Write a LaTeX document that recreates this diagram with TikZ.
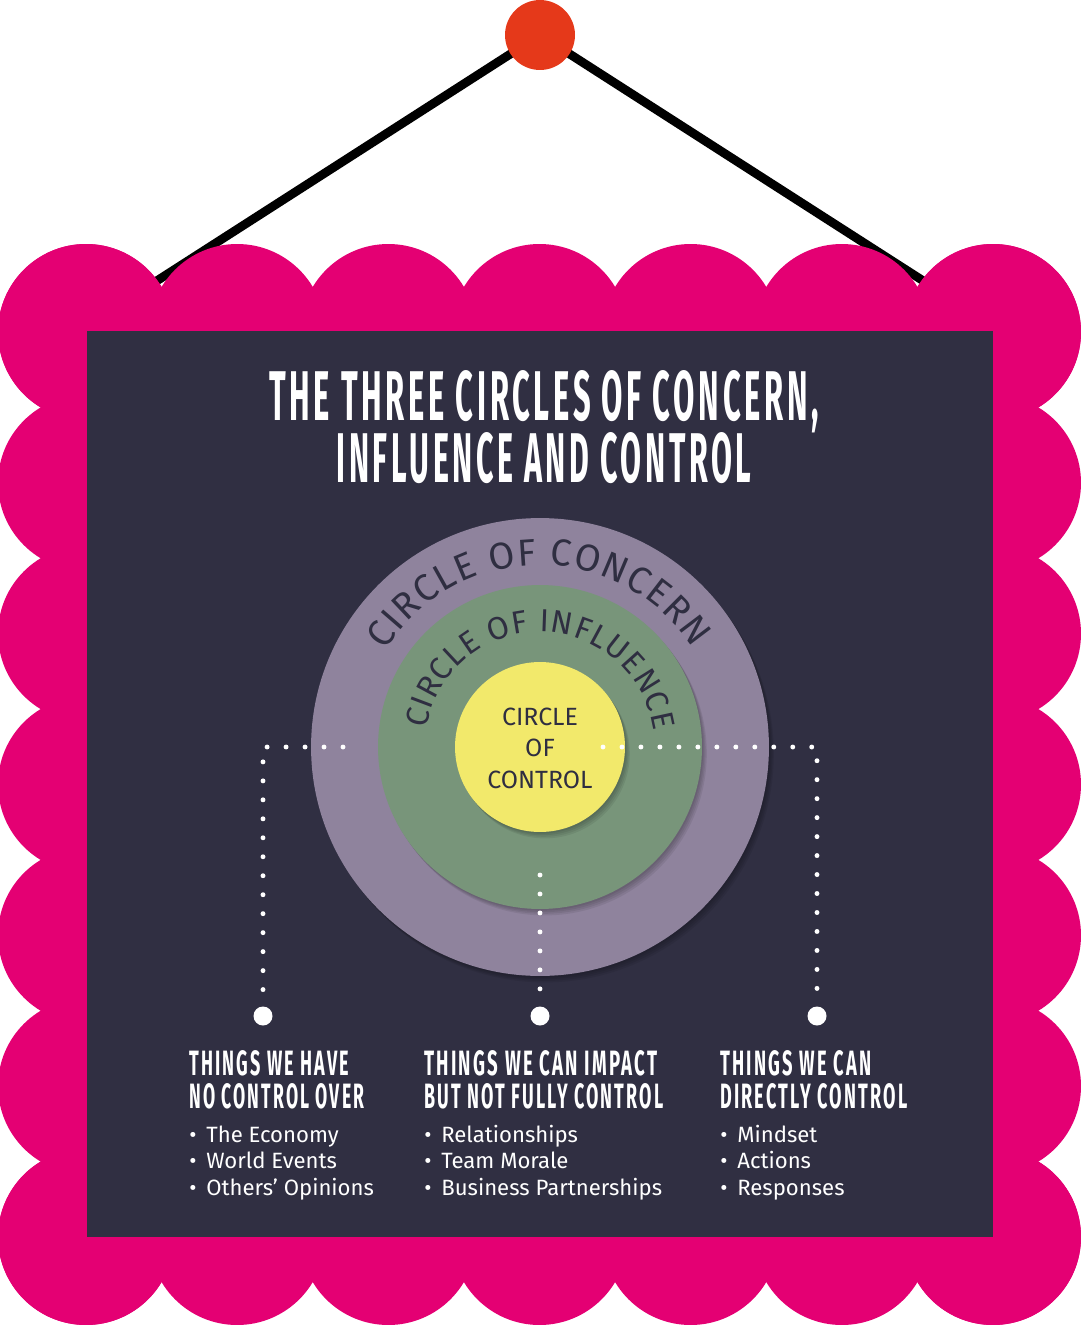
\documentclass[tikz,border=0pt]{standalone}
\usepackage{fontspec}
\setmainfont{Fira Sans}
\newfontfamily\headfont[LetterSpace=12]{Fira Sans}
\usepackage{graphicx}
\usetikzlibrary{decorations.text}

\definecolor{frame}{RGB}{228,0,115}
\definecolor{board}{RGB}{48,47,66}
\definecolor{pinred}{RGB}{229,57,26}
\definecolor{concern}{RGB}{143,131,157}
\definecolor{influence}{RGB}{120,149,122}
\definecolor{control}{RGB}{242,233,107}
\definecolor{ink}{RGB}{47,46,65}

\newcommand{\headfit}[3]{\resizebox{#1}{#2}{\headfont\bfseries #3}}
\newcommand{\concernfont}{\fontsize{21.4pt}{21.4pt}\selectfont}
\newcommand{\influencefont}{\fontsize{18.1pt}{18.1pt}\selectfont}

\begin{document}
\begin{tikzpicture}[x=0.02cm, y=0.02cm,
    hanger/.style={line width=5pt, black},
    pin/.style={circle, fill=pinred, minimum size=1.4cm, inner sep=0pt},
    ring/.style={circle, inner sep=0pt},
    shade/.style={black, opacity=0.07},
    dots/.style={white, line width=2.8pt, line cap=round, dash pattern=on 0pt off 10.8pt},
    enddot/.style={circle, fill=white, minimum size=0.38cm, inner sep=0pt},
    heading/.style={anchor=base west, text=white, inner sep=0pt},
    item/.style={anchor=base west, text=white, inner sep=0pt, font=\fontsize{12.6pt}{14pt}\selectfont}]
  \useasboundingbox (0,0) rectangle (1080,-1325);

  % Hanger
  \coordinate (top) at (540,-35);
  \coordinate (hookL) at (141,-291);
  \coordinate (hookR) at (939,-291);
  \draw[hanger] (hookL) -- (top) -- (hookR);

  % Scalloped frame
  \fill[frame] (86,-332) rectangle (993,-1237);
  \foreach \i in {0,...,6} {
    \fill[frame] ({86+151.17*\i},-332) circle (88);
    \fill[frame] ({86+151.17*\i},-1237) circle (88);
    \fill[frame] (86,{-332-150.83*\i}) circle (88);
    \fill[frame] (993,{-332-150.83*\i}) circle (88);
  }
  \fill[board] (87,-331) rectangle (993,-1237);
  \node[pin] (pin) at (top) {};

  % Title
  \node[anchor=base, text=white, inner sep=0pt] (title1) at (544,-420)
    {\headfit{11cm}{1cm}{THE THREE CIRCLES OF CONCERN,}};
  \node[anchor=base, text=white, inner sep=0pt] (title2) at (544,-482)
    {\headfit{8.3cm}{1cm}{INFLUENCE AND CONTROL}};

  % Circles with soft shadows
  \foreach \d in {2,4,6,8} \fill[shade] ({540+0.6*\d},{-747-0.8*\d}) circle (229);
  \node[ring, fill=concern, minimum size=9.16cm] (concern) at (540,-747) {};
  \foreach \d in {2,4,6,8} \fill[shade] ({540+0.6*\d},{-747-0.8*\d}) circle (162);
  \node[ring, fill=influence, minimum size=6.48cm] (influence) at (540,-747) {};
  \foreach \d in {2,4,6,8} \fill[shade] ({540+0.6*\d},{-747-0.8*\d}) circle (85);
  \node[ring, fill=control, minimum size=3.4cm] (control) at (540,-747) {};

  \path[decorate, decoration={text along path, text align=fit to path, text color=ink,
      text={|\concernfont|CIRCLE OF CONCERN}}]
    (concern.center) ++(148:182) arc[start angle=148, end angle=33, radius=182];
  \path[decorate, decoration={text along path, text align=fit to path, text color=ink,
      text={|\influencefont|CIRCLE OF INFLUENCE}}]
    (influence.center) ++(171:115) arc[start angle=171, end angle=8, radius=115];
  \node[align=center, text=ink, inner sep=0pt, font=\fontsize{14.2pt}{17.9pt}\selectfont]
    (ctext) at (540,-748) {CIRCLE\\OF\\CONTROL};

  % Connectors
  \coordinate (startL) at (343,-747);
  \coordinate (cornerL) at (263,-747);
  \coordinate (startM) at (540,-875);
  \coordinate (startR) at (603,-747);
  \coordinate (cornerR) at (817,-747);
  \node[enddot] (endL) at (263,-1016) {};
  \node[enddot] (endM) at (540,-1016) {};
  \node[enddot] (endR) at (817,-1016) {};
  \draw[dots] (startL) -- (cornerL) -- (endL);
  \draw[dots] (startM) -- (endM);
  \draw[dots] (startR) -- (cornerR) -- (endR);

  % Columns
  \node[heading] (headL1) at (189,-1075) {\headfit{3.2cm}{0.5cm}{THINGS WE HAVE}};
  \node[heading] (headL2) at (189,-1108) {\headfit{3.5cm}{0.5cm}{NO CONTROL OVER}};
  \node[heading] (headM1) at (424,-1075) {\headfit{4.66cm}{0.5cm}{THINGS WE CAN IMPACT}};
  \node[heading] (headM2) at (424,-1108) {\headfit{4.78cm}{0.5cm}{BUT NOT FULLY CONTROL}};
  \node[heading] (headR1) at (720,-1075) {\headfit{3.02cm}{0.5cm}{THINGS WE CAN}};
  \node[heading] (headR2) at (720,-1108) {\headfit{3.74cm}{0.5cm}{DIRECTLY CONTROL}};

  \foreach \txt [count=\k] in {The Economy, World Events, Others’ Opinions}
    \node[item] (itemL\k) at (189,{-1142-26.5*(\k-1)}) {\makebox[0.34cm][l]{\textbullet}\txt};
  \foreach \txt [count=\k] in {Relationships, Team Morale, Business Partnerships}
    \node[item] (itemM\k) at (424,{-1142-26.5*(\k-1)}) {\makebox[0.34cm][l]{\textbullet}\txt};
  \foreach \txt [count=\k] in {Mindset, Actions, Responses}
    \node[item] (itemR\k) at (720,{-1142-26.5*(\k-1)}) {\makebox[0.34cm][l]{\textbullet}\txt};
\end{tikzpicture}
\end{document}
